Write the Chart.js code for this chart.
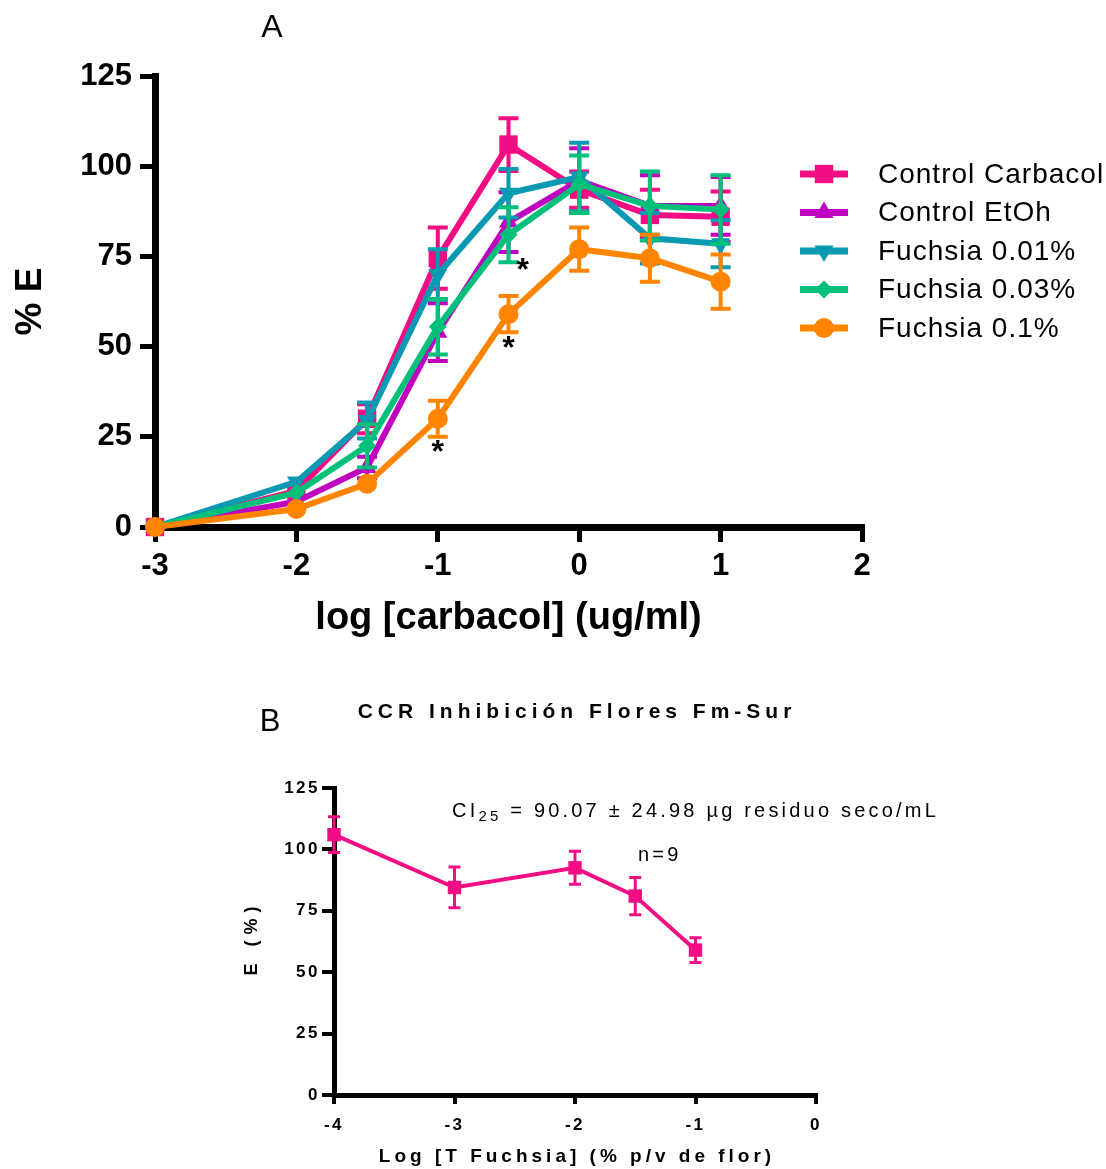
<!DOCTYPE html>
<html>
<head>
<meta charset="utf-8">
<script src="https://cdn.jsdelivr.net/npm/chart.js@4.4.1/dist/chart.umd.min.js"></script>
<style>
  html, body { margin: 0; padding: 0; background: #fff; }
  #wrapA { position: absolute; left: 0; top: 0; width: 1106px; height: 660px; }
  #wrapB { position: absolute; left: 0; top: 660px; width: 1106px; height: 509px; }
</style>
</head>
<body>
<div id="wrapA"><canvas id="chartA" width="1106" height="660"></canvas></div>
<div id="wrapB"><canvas id="chartB" width="1106" height="509"></canvas></div>
<script>
// panel A: concentration-response to carbachol
var logCarbacol = [-3, -2, -1.5, -1, -0.5, 0, 0.5, 1];

var controlCarbacol    = [0, 10, 30, 74.5, 106, 93.5, 86.5, 86];
var controlCarbacolSem = [0, 0, 4, 8.5, 7.3, 5, 7, 7];
var controlEtoh        = [0, 7, 16.5, 54, 84.5, 96, 89, 89];
var controlEtohSem     = [0, 0, 3, 8, 8.3, 9, 8.5, 8];
var fuchsia001         = [0, 12.5, 29.5, 70, 92.5, 97, 80, 78.5];
var fuchsia001Sem      = [0, 0, 5, 7, 6.7, 9.5, 7, 6.5];
var fuchsia003         = [0, 9.5, 22.5, 55.5, 81, 95, 89, 88];
var fuchsia003Sem      = [0, 0, 6, 7.7, 7.6, 8, 9.5, 9.5];
var fuchsia01          = [0, 5, 12, 30, 59, 77, 74.5, 68];
var fuchsia01Sem       = [0, 0, 0, 5, 5, 6, 6.5, 7.5];

// significance marks (*)
var starX = [-1, -0.5, -0.4];
var starY = [22, 51, 72.5];

// panel B: inhibition at a fixed carbachol dose
var logFuchsia = [-4, -3, -2, -1.5, -1];
var inhibitionE = [106, 84.5, 92.5, 81, 59];
var inhibitionSem = [7.3, 8.3, 6.7, 7.6, 5];

var PINK = '#f20d84', PURPLE = '#bf00c0', TEAL = '#0a99b2', GREEN = '#00c07a', ORANGE = '#ff8400';
var FONT = '"Liberation Sans", Arial, sans-serif';

Chart.defaults.font.family = FONT;
Chart.defaults.color = '#000';

function pts(xs, ys) {
    return xs.map(function(x, i){ return {x: x, y: ys[i]}; });
}

function series(label, ys, sem, color, style, radius, rot, order){
    return {
        label: label,
        data: pts(logCarbacol, ys),
        sem: sem,
        borderColor: color,
        backgroundColor: color,
        borderWidth: 6,
        pointStyle: style,
        pointRadius: radius,
        pointRotation: rot,
        pointBorderWidth: 0,
        pointBackgroundColor: color,
        capHalf: 10,
        errWidth: 4,
        tension: 0,
        clip: false,
        order: order
    };
}

// SEM bars drawn with each dataset so layering follows the lines
var errorBars = {
    id: 'errorBars',
    afterDatasetDraw: function(chart, args){
        var ds = chart.data.datasets[args.index];
        if (!ds.sem) return;
        var ctx = chart.ctx, xs = chart.scales.x, ys = chart.scales.y;
        ctx.save();
        ctx.strokeStyle = ds.borderColor;
        ctx.lineWidth = ds.errWidth;
        ds.data.forEach(function(p, i){
            var e = ds.sem[i];
            if (!e) return;
            var x = xs.getPixelForValue(p.x);
            var t = ys.getPixelForValue(p.y + e), b = ys.getPixelForValue(p.y - e);
            ctx.beginPath();
            ctx.moveTo(x, t); ctx.lineTo(x, b);
            ctx.moveTo(x - ds.capHalf, t); ctx.lineTo(x + ds.capHalf, t);
            ctx.moveTo(x - ds.capHalf, b); ctx.lineTo(x + ds.capHalf, b);
            ctx.stroke();
        });
        ctx.restore();
    }
};

function marker(ctx, style, rot, r, x, y){
    ctx.beginPath();
    if (style === 'rect') {
        var s = r * Math.SQRT1_2;
        ctx.rect(x - s, y - s, 2 * s, 2 * s);
    } else if (style === 'circle') {
        ctx.arc(x, y, r, 0, Math.PI * 2);
    } else if (style === 'rectRot') {
        ctx.moveTo(x, y - r); ctx.lineTo(x + r, y); ctx.lineTo(x, y + r); ctx.lineTo(x - r, y);
    } else if (style === 'triangle') {
        var a = (rot || 0) * Math.PI / 180;
        for (var k = 0; k < 3; k++) {
            var ang = a - Math.PI / 2 + k * 2 * Math.PI / 3;
            var px = x + Math.cos(ang) * r, py = y + Math.sin(ang) * r;
            if (k === 0) ctx.moveTo(px, py); else ctx.lineTo(px, py);
        }
    }
    ctx.closePath();
    ctx.fill();
}

var panelADecor = {
    id: 'panelADecor',
    afterDraw: function(chart){
        var ctx = chart.ctx;
        ctx.save();
        // legend
        chart.data.datasets.forEach(function(ds, i){
            var y = 174 + i * 38.5;
            ctx.strokeStyle = ds.borderColor;
            ctx.fillStyle = ds.borderColor;
            ctx.lineWidth = 7;
            ctx.beginPath(); ctx.moveTo(800, y); ctx.lineTo(848, y); ctx.stroke();
            marker(ctx, ds.pointStyle, ds.pointRotation, ds.pointRadius, 824, y);
            ctx.fillStyle = '#000';
            ctx.font = '28px ' + FONT;
            ctx.letterSpacing = '1px';
            ctx.textAlign = 'left';
            ctx.textBaseline = 'middle';
            ctx.fillText(ds.label, 878, y + 1);
        });
        // asterisks
        ctx.letterSpacing = '0px';
        ctx.fillStyle = '#000';
        ctx.font = 'bold 32px ' + FONT;
        ctx.textAlign = 'center';
        starX.forEach(function(v, i){
            ctx.fillText('*', chart.scales.x.getPixelForValue(v), chart.scales.y.getPixelForValue(starY[i]) + 6);
        });
        // panel letter
        ctx.font = '32px "Liberation Sans Narrow", ' + FONT;
        ctx.fillText('A', 272, 28);
        ctx.restore();
    }
};

new Chart(document.getElementById('chartA'), {
    type: 'line',
    data: {
        datasets: [
            series('Control Carbacol', controlCarbacol, controlCarbacolSem, PINK, 'rect', 13, 0, 5),
            series('Control EtOh', controlEtoh, controlEtohSem, PURPLE, 'triangle', 11, 0, 4),
            series('Fuchsia 0.01%', fuchsia001, fuchsia001Sem, TEAL, 'triangle', 11, 180, 3),
            series('Fuchsia 0.03%', fuchsia003, fuchsia003Sem, GREEN, 'rectRot', 9, 0, 2),
            series('Fuchsia 0.1%', fuchsia01, fuchsia01Sem, ORANGE, 'circle', 10, 0, 1)
        ]
    },
    options: {
        responsive: false,
        animation: false,
        devicePixelRatio: 1,
        layout: { padding: { left: 0, top: 76, right: 244, bottom: 0 } },
        plugins: { legend: { display: false }, tooltip: { enabled: false } },
        scales: {
            x: {
                type: 'linear', min: -3, max: 2,
                ticks: { stepSize: 1, font: { size: 31, weight: 'bold' }, padding: 6, color: '#000' },
                grid: { drawOnChartArea: false, tickLength: 15, lineWidth: 5, color: '#000' },
                border: { width: 7, color: '#000' },
                title: { display: true, text: 'log [carbacol] (ug/ml)', font: { size: 38, weight: 'bold', lineHeight: 1 }, padding: { top: 0, bottom: 22 }, color: '#000' },
                afterFit: function(s){ s.height = 133; }
            },
            y: {
                min: 0, max: 125,
                ticks: { stepSize: 25, font: { size: 31, weight: 'bold' }, padding: 8, color: '#000' },
                grid: { drawOnChartArea: false, tickLength: 15, lineWidth: 5, color: '#000' },
                border: { width: 7, color: '#000' },
                title: { display: true, text: '% E', font: { size: 37, weight: 'bold', lineHeight: 1 }, padding: { top: 12, bottom: 0 }, color: '#000' },
                afterFit: function(s){ s.width = 155; }
            }
        }
    },
    plugins: [errorBars, panelADecor]
});

// panel B uses spaced-out lettering throughout
var spacing = {
    id: 'spacing',
    beforeUpdate: function(chart){ chart.ctx.letterSpacing = '2.5px'; },
    beforeDraw: function(chart){ chart.ctx.letterSpacing = '2.5px'; }
};

var panelBDecor = {
    id: 'panelBDecor',
    afterDraw: function(chart){
        var ctx = chart.ctx;
        ctx.save();
        ctx.fillStyle = '#000';
        ctx.textBaseline = 'middle';

        ctx.letterSpacing = '0px';
        ctx.textAlign = 'center';
        ctx.font = '31px "Liberation Sans Narrow", ' + FONT;
        ctx.fillText('B', 270, 62);

        ctx.letterSpacing = '5px';
        ctx.font = 'bold 21px ' + FONT;
        ctx.fillText('CCR Inhibición Flores Fm-Sur', 577, 52);

        // CI25 annotation
        ctx.textAlign = 'left';
        ctx.letterSpacing = '3.2px';
        ctx.font = '20px ' + FONT;
        var x = 452, y = 151;
        ctx.fillText('CI', x, y);
        x += ctx.measureText('CI').width;
        ctx.font = '15px ' + FONT;
        ctx.fillText('25', x, y + 6);
        x += ctx.measureText('25').width;
        ctx.font = '20px ' + FONT;
        ctx.fillText(' = 90.07 \u00b1 24.98 \u00b5g residuo seco/mL', x, y);
        ctx.fillText('n=9', 638, 195);

        // axis titles
        ctx.textAlign = 'center';
        ctx.letterSpacing = '4px';
        ctx.font = 'bold 19px ' + FONT;
        ctx.fillText('Log [T Fuchsia] (% p/v de flor)', 577, 497);

        ctx.letterSpacing = '6px';
        ctx.font = 'bold 18px ' + FONT;
        ctx.translate(252, 281);
        ctx.rotate(-Math.PI / 2);
        ctx.fillText('E (%)', 3, 0);
        ctx.restore();
    }
};

new Chart(document.getElementById('chartB'), {
    type: 'line',
    data: {
        datasets: [{
            label: 'E',
            data: pts(logFuchsia, inhibitionE),
            sem: inhibitionSem,
            borderColor: PINK,
            backgroundColor: PINK,
            borderWidth: 4,
            pointStyle: 'rect',
            pointRadius: 9.5,
            pointBorderWidth: 0,
            pointBackgroundColor: PINK,
            capHalf: 6,
            errWidth: 3,
            clip: false
        }]
    },
    options: {
        responsive: false,
        animation: false,
        devicePixelRatio: 1,
        layout: { padding: { left: 0, top: 128, right: 290, bottom: 0 } },
        plugins: { legend: { display: false }, tooltip: { enabled: false } },
        scales: {
            x: {
                type: 'linear', min: -4, max: 0,
                ticks: { stepSize: 1, font: { size: 17, weight: 'bold' }, padding: 11, color: '#000' },
                grid: { drawOnChartArea: false, tickLength: 9, lineWidth: 4, color: '#000' },
                border: { width: 5, color: '#000' },
                afterFit: function(s){ s.height = 74; }
            },
            y: {
                min: 0, max: 125,
                ticks: { stepSize: 25, font: { size: 17, weight: 'bold' }, padding: 2, color: '#000' },
                grid: { drawOnChartArea: false, tickLength: 12, lineWidth: 4, color: '#000' },
                border: { width: 5, color: '#000' },
                afterFit: function(s){ s.width = 334; }
            }
        }
    },
    plugins: [spacing, errorBars, panelBDecor]
});
</script>
</body>
</html>
